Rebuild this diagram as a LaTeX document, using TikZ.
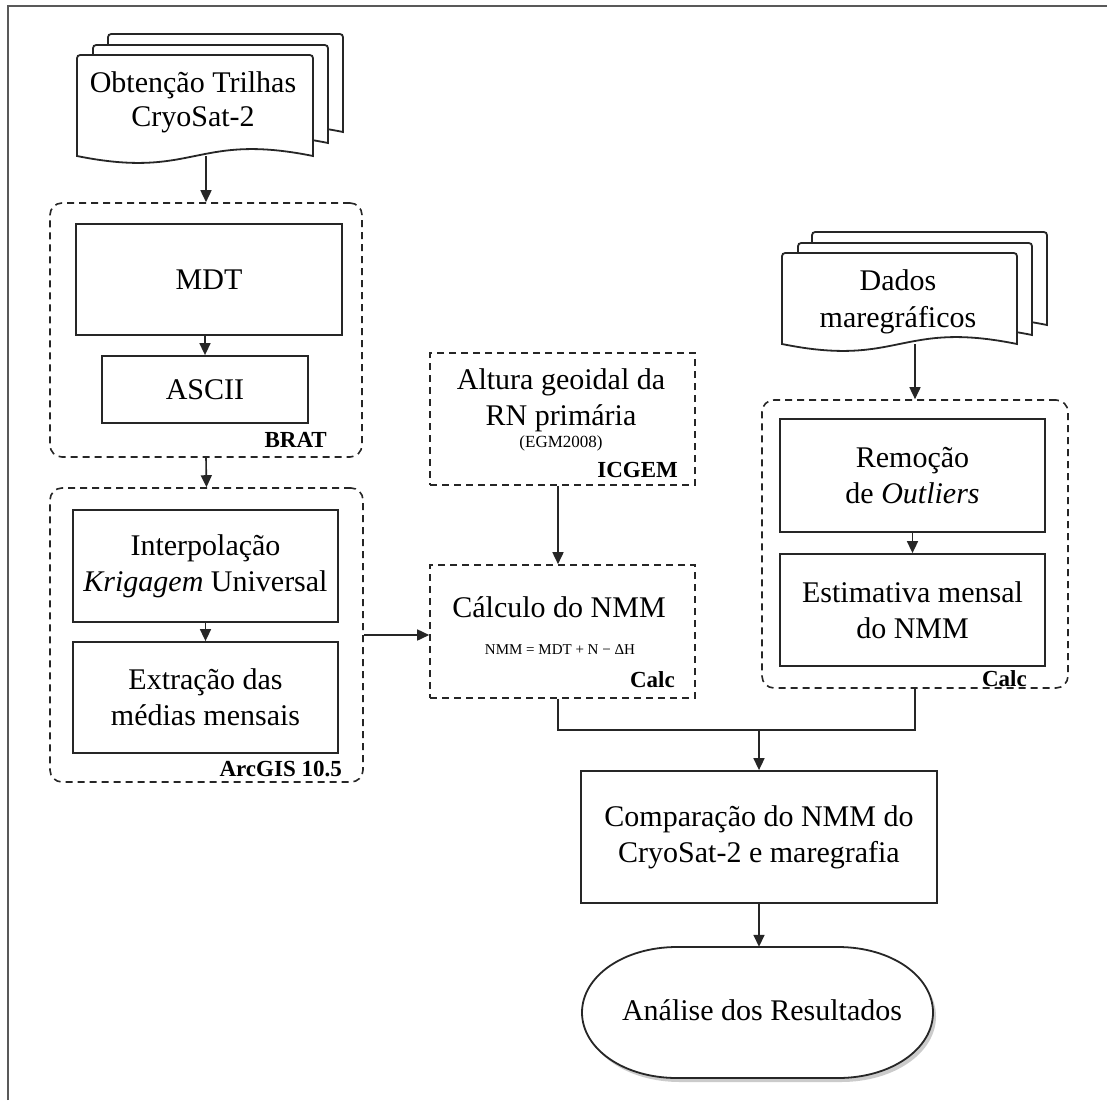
\documentclass[tikz,border=0pt]{standalone}
\usepackage{fontspec}
\setmainfont{Liberation Serif}
\usetikzlibrary{arrows.meta,calc}

% one sheet of a stacked-document symbol: left, top, right, wave baseline
\newcommand\docpage[4]{%
  \filldraw[page] (#1,#4) -- (#1,#2+7) .. controls (#1,#2) .. (#1+7,#2)
    -- (#3-7,#2) .. controls (#3,#2) .. (#3,#2+7) -- (#3,#4)
    .. controls ({#3-0.5*(#3-#1)},#4-24) and ({#1+0.5*(#3-#1)},#4+24) .. (#1,#4) -- cycle;}

% terminator outline (elliptic ends)
\newcommand\termpath{(677,947) -- (838,947)
  .. controls (891.5,947) and (933,976.3) .. (933,1012.5)
  .. controls (933,1048.7) and (891.5,1078) .. (838,1078)
  -- (677,1078)
  .. controls (623.5,1078) and (582,1048.7) .. (582,1012.5)
  .. controls (582,976.3) and (623.5,947) .. (677,947) -- cycle}

\tikzset{
  page/.style={draw=black!85, line width=1.8pt, fill=white},
  box/.style={draw=black!85, line width=1.8pt, fill=white, rectangle, inner sep=0pt,
    align=center, font=\fontsize{30}{36}\selectfont},
  grp/.style={draw=black!85, line width=1.6pt, dash pattern=on 7pt off 5pt,
    rectangle, inner sep=0pt},
  rgrp/.style={grp, rounded corners=12pt},
  tag/.style={anchor=east, inner sep=0pt, font=\fontsize{23}{23}\selectfont\bfseries},
  txt/.style={inner sep=0pt, align=center, font=\fontsize{30}{36}\selectfont},
  area/.style={inner sep=0pt, rectangle},
  arr/.style={draw=black!85, line width=1.6pt, -{Triangle[length=12pt,width=11pt]}},
  wire/.style={draw=black!85, line width=1.6pt},
}

\begin{document}
\begin{tikzpicture}[x=1pt,y=-1pt]
\useasboundingbox (0,0) rectangle (1107,1100);
\fill[white] (0,0) rectangle (1107,1100);
\draw[draw=black!65, line width=2pt] (8,1100) -- (8,6) -- (1107,6);

% ---------- left column ----------
\docpage{108}{34}{343}{132}
\docpage{93}{45}{328}{143}
\docpage{77}{55}{313}{156}
\node[area, minimum width=236, minimum height=101] (obt) at (195,105.5) {};
\node[txt, font=\fontsize{30}{34}\selectfont] (obtt) at (193,102) {Obtenção Trilhas\\CryoSat-2};

\node[rgrp, minimum width=312, minimum height=254] (brat) at (206,330) {};
\node[box, minimum width=266, minimum height=111] (mdt) at (209,279.5) {MDT};
\node[box, minimum width=206, minimum height=67] (ascii) at (205,389.5) {ASCII};
\node[tag] (bratl) at (327,440) {BRAT};

\node[rgrp, minimum width=313, minimum height=294] (arc) at (206.5,635) {};
\node[box, minimum width=265, minimum height=112] (interp) at (205.5,566) {Interpolação\\\textit{Krigagem} Universal};
\node[box, minimum width=265, minimum height=111] (extr) at (205.5,697.5) {Extração das\\médias mensais};
\node[tag] (arcl) at (342,769) {ArcGIS 10.5};

% ---------- middle column ----------
\node[grp, minimum width=265, minimum height=132] (icg) at (562.5,419) {};
\node[txt] (icgt) at (561,400) {Altura geoidal da\\RN primária};
\node[txt, font=\fontsize{17}{17}\selectfont] (egm) at (561,443) {(EGM2008)};
\node[tag] (icgl) at (678,470) {ICGEM};

\node[grp, minimum width=265, minimum height=133] (calcb) at (562.5,631.5) {};
\node[txt] (calct) at (559,607) {Cálculo do NMM};
\node[txt, font=\fontsize{15}{15}\selectfont] (form) at (560,650) {NMM = MDT + N − ΔH};
\node[tag] (calcl) at (675,680) {Calc};

% ---------- right column ----------
\docpage{812}{232}{1047}{325}
\docpage{798}{243}{1032}{335}
\docpage{782}{253}{1017}{344}
\node[area, minimum width=235, minimum height=91] (dados) at (899.5,298.5) {};
\node[txt, font=\fontsize{30}{37}\selectfont] (dadost) at (898,301.5) {Dados\\maregráficos};

\node[rgrp, minimum width=306, minimum height=288] (rgrp) at (915,544) {};
\node[box, minimum width=265, minimum height=113] (remo) at (912.5,475.5) {Remoção\\de \textit{Outliers}};
\node[box, minimum width=265, minimum height=112] (estim) at (912.5,610) {Estimativa mensal\\do NMM};
\node[tag] (rcalcl) at (1027,679) {Calc};

% ---------- bottom ----------
\node[box, minimum width=356, minimum height=132] (comp) at (759,837) {Comparação do NMM do\\CryoSat-2 e maregrafia};

\fill[black!40, opacity=0.5, shift={(3,4)}] \termpath;
\filldraw[page] \termpath;
\node[area, minimum width=351, minimum height=131] (ana) at (757.5,1012.5) {};
\node[txt] (anat) at (762,1010) {Análise dos Resultados};

% ---------- connectors ----------
\coordinate (mx) at (558,0);
\coordinate (mjy) at (0,730);
\coordinate (mj) at (comp.north |- mjy);
\draw[arr] (obt.south -| brat.north) -- (brat.north);
\draw[arr] (mdt.south -| ascii.north) -- (ascii.north);
\draw[arr] (brat.south) -- (arc.north);
\draw[arr] (interp.south) -- (extr.north);
\draw[arr] (arc.east) -- (arc.east -| calcb.west);
\draw[arr] (icg.south -| mx) -- (calcb.north -| mx);
\draw[arr] (dados.south -| rgrp.north) -- (rgrp.north);
\draw[arr] (remo.south) -- (estim.north);
\draw[wire] (calcb.south -| mx) |- (mj);
\draw[wire] (rgrp.south) |- (mj);
\draw[arr] (mj) -- (comp.north);
\draw[arr] (comp.south) -- (comp.south |- ana.north);
\end{tikzpicture}
\end{document}
